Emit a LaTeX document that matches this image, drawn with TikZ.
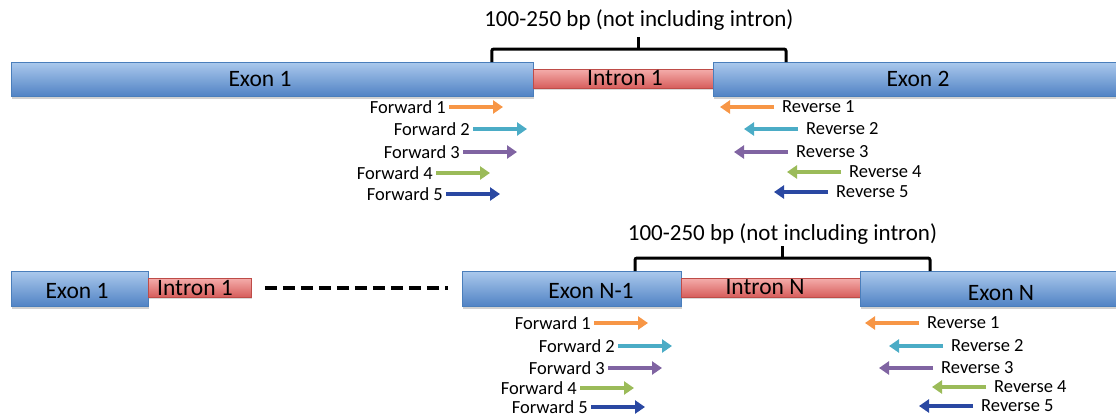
\documentclass[tikz,border=0pt]{standalone}
\usepackage{fontspec}
\setmainfont{Carlito}
\usepackage{tikz}
\usetikzlibrary{arrows.meta, calc, shadows}

\definecolor{exontop}{RGB}{170,200,236}
\definecolor{exonbot}{RGB}{80,130,196}
\definecolor{exonline}{RGB}{74,126,187}
\definecolor{introntop}{RGB}{244,172,170}
\definecolor{intronbot}{RGB}{214,92,90}
\definecolor{intronline}{RGB}{190,76,72}
\definecolor{porange}{RGB}{247,150,70}
\definecolor{pcyan}{RGB}{75,172,198}
\definecolor{ppurple}{RGB}{128,100,162}
\definecolor{pgreen}{RGB}{155,187,89}
\definecolor{pblue}{RGB}{42,72,162}

\begin{document}
\begin{tikzpicture}[x=1pt, y=-1pt,
        exon/.style={draw=exonline, line width=0.8pt, top color=exontop, bottom color=exonbot, anchor=north west, minimum height=34pt, inner sep=0pt,
            drop shadow={shadow xshift=1pt, shadow yshift=-2.5pt, opacity=0.3, fill=black!60}},
        intron/.style={draw=intronline, line width=0.8pt, top color=introntop, bottom color=intronbot, anchor=north west, minimum height=19pt, inner sep=0pt,
            drop shadow={shadow xshift=1pt, shadow yshift=-2pt, opacity=0.25, fill=black!60}},
        boxlbl/.style={font=\fontsize{23.5}{27}\selectfont, inner sep=0pt},
        bplbl/.style={font=\fontsize{23}{27}\selectfont, inner sep=0pt},
        flbl/.style={font=\fontsize{18.5}{22}\selectfont, anchor=east, inner xsep=3pt, inner ysep=0pt},
        rlbl/.style={font=\fontsize{18.5}{22}\selectfont, anchor=west, inner xsep=8pt, inner ysep=0pt},
        primer/.style={line width=4.5pt, -{Triangle[width=13pt, length=10pt]}},
        brk/.style={line width=3pt, rounded corners=2pt},
        gapline/.style={line width=4pt, dash pattern=on 12pt off 6pt}]
    \useasboundingbox (0,0) rectangle (1116,418);

    % first exon pair
    \node[exon, minimum width=522pt] (ex1) at (11,62) {};
    \node[intron, minimum width=180pt] (in1) at (533,69) {};
    \node[exon, minimum width=403pt] (ex2) at (713,62) {};
    \node[boxlbl] (ex1l) at (260,79) {Exon 1};
    \node[boxlbl] (in1l) at (625,78) {Intron 1};
    \node[boxlbl] (ex2l) at (918,79) {Exon 2};

    \coordinate (bkl) at ([xshift=-42pt]ex1.north east);
    \coordinate (bkr) at ([xshift=73pt]ex2.north west);
    \draw[brk] (bkl) -- ++(0,-13) -| (bkr);
    \draw[brk] ($(bkl)!0.5!(bkr)+(0,-13)$) -- ++(0,-12);
    \node[bplbl] (bp1) at ($(bkl)!0.5!(bkr)+(0,-42)$) {100-250 bp (not including intron)};

    \node[flbl] (f1) at (449,107) {Forward 1}; \draw[primer, porange] (f1.east) -- ++(54,0);
    \node[flbl] (f2) at (473,129) {Forward 2}; \draw[primer, pcyan] (f2.east) -- ++(54,0);
    \node[flbl] (f3) at (463,152) {Forward 3}; \draw[primer, ppurple] (f3.east) -- ++(54,0);
    \node[flbl] (f4) at (436,173) {Forward 4}; \draw[primer, pgreen] (f4.east) -- ++(54,0);
    \node[flbl] (f5) at (446,194) {Forward 5}; \draw[primer, pblue] (f5.east) -- ++(54,0);

    \node[rlbl] (r1) at (774,107) {Reverse 1}; \draw[primer, porange] (r1.west) -- ++(-54,0);
    \node[rlbl] (r2) at (798,129) {Reverse 2}; \draw[primer, pcyan] (r2.west) -- ++(-54,0);
    \node[rlbl] (r3) at (788,152) {Reverse 3}; \draw[primer, ppurple] (r3.west) -- ++(-54,0);
    \node[rlbl] (r4) at (841,172) {Reverse 4}; \draw[primer, pgreen] (r4.west) -- ++(-54,0);
    \node[rlbl] (r5) at (828,192) {Reverse 5}; \draw[primer, pblue] (r5.west) -- ++(-54,0);

    % last exon pair
    \node[exon, minimum width=137pt, minimum height=35pt] (bex1) at (11,271) {};
    \node[intron, minimum width=103pt] (bin1) at (148,278) {};
    \node[exon, minimum width=219pt, minimum height=35pt] (exm) at (462,271) {};
    \node[intron, minimum width=179pt] (inn) at (681,278) {};
    \node[exon, minimum width=256pt, minimum height=35pt] (exn) at (860,271) {};
    \node[boxlbl] (bex1l) at (77,291) {Exon 1};
    \node[boxlbl] (bin1l) at (195,288) {Intron 1};
    \node[boxlbl] (exml) at (591,291) {Exon N-1};
    \node[boxlbl] (innl) at (765,287) {Intron N};
    \node[boxlbl] (exnl) at (1001,293) {Exon N};

    \draw[gapline] ([xshift=13pt]bin1.east) -- ([xshift=-14pt]bin1.east -| exm.west);

    \coordinate (bbkl) at ([xshift=173pt]exm.north west);
    \coordinate (bbkr) at ([xshift=70pt]exn.north west);
    \draw[brk] (bbkl) -- ++(0,-13) -| (bbkr);
    \draw[brk] ($(bbkl)!0.5!(bbkr)+(0,-13)$) -- ++(0,-12);
    \node[bplbl] (bp2) at ($(bbkl)!0.5!(bbkr)+(0,-37)$) {100-250 bp (not including intron)};

    \node[flbl] (bf1) at (594,323) {Forward 1}; \draw[primer, porange] (bf1.east) -- ++(54,0);
    \node[flbl] (bf2) at (618,346) {Forward 2}; \draw[primer, pcyan] (bf2.east) -- ++(54,0);
    \node[flbl] (bf3) at (608,368) {Forward 3}; \draw[primer, ppurple] (bf3.east) -- ++(54,0);
    \node[flbl] (bf4) at (580,388) {Forward 4}; \draw[primer, pgreen] (bf4.east) -- ++(54,0);
    \node[flbl] (bf5) at (591,407) {Forward 5}; \draw[primer, pblue] (bf5.east) -- ++(54,0);

    \node[rlbl] (br1) at (919,323) {Reverse 1}; \draw[primer, porange] (br1.west) -- ++(-54,0);
    \node[rlbl] (br2) at (943,346) {Reverse 2}; \draw[primer, pcyan] (br2.west) -- ++(-54,0);
    \node[rlbl] (br3) at (933,368) {Reverse 3}; \draw[primer, ppurple] (br3.west) -- ++(-54,0);
    \node[rlbl] (br4) at (986,387) {Reverse 4}; \draw[primer, pgreen] (br4.west) -- ++(-54,0);
    \node[rlbl] (br5) at (973,406) {Reverse 5}; \draw[primer, pblue] (br5.west) -- ++(-54,0);
\end{tikzpicture}
\end{document}
